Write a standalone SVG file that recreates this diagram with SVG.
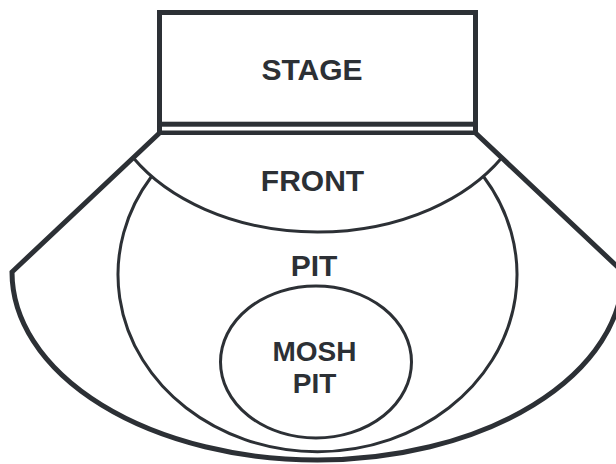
<svg xmlns="http://www.w3.org/2000/svg" width="616" height="464" viewBox="0 0 616 464">
<style>
.thick{fill:none;stroke:#2c3035;stroke-width:5;stroke-linejoin:miter}
.thin{fill:none;stroke:#2c3035;stroke-width:3}
.lbl{font-family:"Liberation Sans",Arial,sans-serif;font-weight:bold;font-size:30px;fill:#2c3035;text-anchor:middle}
.sm{font-size:28px}
</style>
<rect width="616" height="464" fill="#ffffff"/>
<g id="venue">
  <path class="thick" d="M159.5,124 L159.5,133 L12,272 A305.5,188 0 0 0 623,272 L475.5,133 L475.5,124"/>
  <line class="thick" x1="159.5" y1="132.8" x2="475.5" y2="132.8" style="stroke-width:4.5"/>
</g>
<g id="stage">
  <rect class="thick" x="159.5" y="12.5" width="316" height="111.7"/>
  <text class="lbl" x="312" y="79.5">STAGE</text>
</g>
<g id="front">
  <path class="thin" d="M133.2,157.8 A215,153 0 0 0 501.8,157.8"/>
  <text class="lbl" x="312.5" y="190.5">FRONT</text>
</g>
<g id="pit">
  <path class="thin" d="M151.5,176.5 A199.5,177 0 1 0 483.5,176.5"/>
  <text class="lbl" x="314" y="275.5">PIT</text>
</g>
<g id="mosh-pit">
  <ellipse class="thin" cx="316" cy="362" rx="95.5" ry="76"/>
  <text class="lbl sm" x="314.5" y="361">MOSH</text>
  <text class="lbl sm" x="314.5" y="393">PIT</text>
</g>
</svg>
